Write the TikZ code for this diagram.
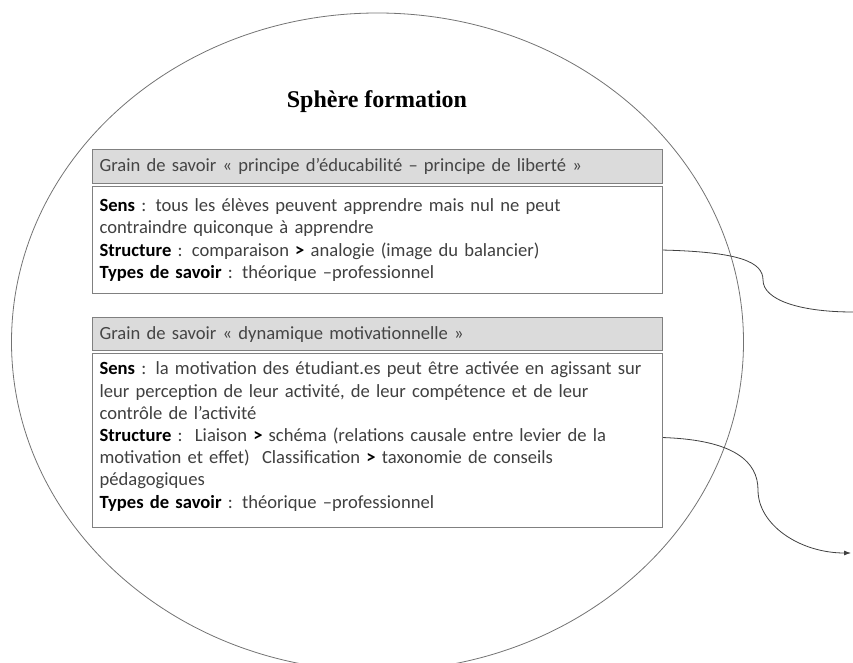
\documentclass[tikz,border=0pt]{standalone}
\usepackage{fontspec}
\setmainfont{Carlito}
\newfontfamily\titlefont{Liberation Serif}
\usetikzlibrary{arrows.meta,calc}
\definecolor{txt}{HTML}{404040}
\definecolor{hdrtxt}{HTML}{454545}
\definecolor{rim}{HTML}{808080}
\newcommand\glab[1]{{\color{black}\bfseries #1}}
\begin{document}
\begin{tikzpicture}[x=1pt,y=-1pt,
  hdr/.style={draw=rim, line width=1.1pt, fill=black!14, anchor=north west,
    minimum width=570pt, minimum height=34pt, text width=556pt,
    inner xsep=7pt, inner ysep=0pt, align=left,
    font=\fontsize{18.6}{22}\selectfont, text=hdrtxt},
  bodybox/.style={draw=rim, line width=1.1pt, fill=white, anchor=north west,
    minimum width=570pt, text width=556pt, inner xsep=7pt, inner ysep=0pt,
    align=left, font=\fontsize{18.6}{22.2}\selectfont, text=txt},
  link/.style={draw=black!75, line width=0.8pt},
  sphere/.style={draw=black!55, line width=0.8pt},
  titlestyle/.style={font=\titlefont\bfseries\fontsize{24}{28}\selectfont, text=black}
]
\useasboundingbox (0,0) rectangle (853,663);
\clip (0,0) rectangle (853,663);

\draw[sphere] (377.5,342) ellipse [x radius=366pt, y radius=329pt];

\node[titlestyle] (title) at (377,102) {Sphère formation};

\node[hdr] (header1) at (92,149) {Grain de savoir « principe d’éducabilité – principe de liberté »};
\node[bodybox, minimum height=107pt] (body1) at (92,186) {%
\glab{Sens} : tous les élèves peuvent apprendre mais nul ne peut\\
contraindre quiconque à apprendre\\
\glab{Structure} : comparaison \glab{>} analogie (image du balancier)\\
\glab{Types de savoir} : théorique –professionnel};

\node[hdr, minimum height=33pt] (header2) at (92,317) {Grain de savoir « dynamique motivationnelle »};
\node[bodybox, minimum height=174pt] (body2) at (92,353) {%
\glab{Sens} : la motivation des étudiant.es peut être activée en agissant sur\\
leur perception de leur activité, de leur compétence et de leur\\
contrôle de l’activité\\
\glab{Structure} :\ \ Liaison \glab{>} schéma (relations causale entre levier de la\\
motivation et effet)\ \ Classification \glab{>} taxonomie de conseils\\
pédagogiques\\
\glab{Types de savoir} : théorique –professionnel\par\vspace*{8pt}};

\coordinate (end1) at (853,312);
\coordinate (end2) at (851,553);

\draw[link] ([yshift=-10pt]body1.east) .. controls (740,252) and (763,262) .. (763,280)
  .. controls (763,300) and (800,312) .. (end1);
\draw[link, -{Latex[length=7pt,width=5pt]}] ([yshift=3pt]body2.east) .. controls (735,440) and (758,462) .. (758,490)
  .. controls (758,525) and (800,553) .. (end2);
\end{tikzpicture}
\end{document}
